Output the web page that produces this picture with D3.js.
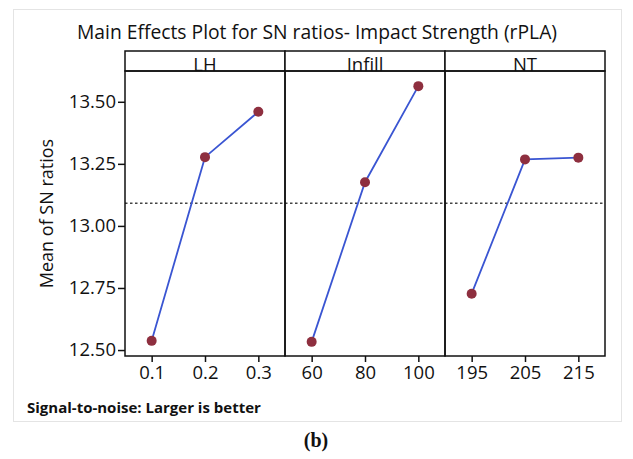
<!DOCTYPE html>
<html>
<head>
<meta charset="utf-8">
<script src="https://cdn.jsdelivr.net/npm/d3@7"></script>
<style>
  body { margin: 0; background: #fff; }
  text { font-family: "Open Sans", "Noto Sans", sans-serif; fill: #111; }
</style>
</head>
<body>
<div id="chart"></div>
<script>
// factors and their levels
var factors = ["LH", "Infill", "NT"];
var lhLevels = ["0.1", "0.2", "0.3"];
var infillLevels = ["60", "80", "100"];
var ntLevels = ["195", "205", "215"];

// mean of SN ratios for each level
var lhMeans = [12.537, 13.277, 13.460];
var infillMeans = [12.533, 13.176, 13.563];
var ntMeans = [12.727, 13.268, 13.275];

var yTicks = [12.50, 12.75, 13.00, 13.25, 13.50];
var overallMean = 13.091;

var panels = [
    {name: factors[0], levels: lhLevels, means: lhMeans},
    {name: factors[1], levels: infillLevels, means: infillMeans},
    {name: factors[2], levels: ntLevels, means: ntMeans}
];

var width = 633;
var height = 459;

var plotLeft = 125;
var plotTop = 71;
var plotBottom = 356;
var panelW = 160;
var headerH = 20;

var svg = d3.select('#chart')
    .append('svg')
    .attr('width', width)
    .attr('height', height);

// light frame round the graph
svg.append('rect')
    .attr('x', 13.5)
    .attr('y', 9.5)
    .attr('width', 608)
    .attr('height', 412)
    .attr('fill', 'none')
    .attr('stroke', '#e4e4e4')
    .attr('stroke-width', 1);

svg.append('text')
    .attr('x', 317)
    .attr('y', 39)
    .attr('text-anchor', 'middle')
    .style('font-size', '19.3px')
    .text('Main Effects Plot for SN ratios- Impact Strength (rPLA)');

var scaleY = d3.scaleLinear()
    .domain([12.476, 13.624])
    .range([plotBottom, plotTop]);

var yAxis = d3.axisLeft(scaleY)
    .tickValues(yTicks)
    .tickFormat(d3.format('.2f'))
    .tickSize(7)
    .tickPadding(2);

var gy = svg.append('g')
    .attr('transform', 'translate(' + plotLeft + ',0)')
    .call(yAxis);
gy.select('.domain').remove();
gy.selectAll('line').attr('stroke', '#111').attr('stroke-width', 1.5);
gy.selectAll('text').style('font-size', '18.5px').attr('fill', '#111');

svg.append('text')
    .attr('transform', 'translate(53,' + ((plotTop + plotBottom) / 2) + ') rotate(-90)')
    .attr('text-anchor', 'middle')
    .style('font-size', '18px')
    .text('Mean of SN ratios');

// mean line across all panels
svg.append('line')
    .attr('x1', plotLeft)
    .attr('x2', plotLeft + panelW * 3)
    .attr('y1', scaleY(overallMean))
    .attr('y2', scaleY(overallMean))
    .attr('stroke', '#444')
    .attr('stroke-width', 1.5)
    .attr('stroke-dasharray', '2.5,2.5');

panels.forEach(function(p, i) {
    var x0 = plotLeft + i * panelW;

    var scaleX = d3.scalePoint()
        .domain(p.levels)
        .range([x0, x0 + panelW])
        .padding(0.5);

    var xAxis = d3.axisBottom(scaleX)
        .tickSize(6)
        .tickPadding(4);

    var gx = svg.append('g')
        .attr('transform', 'translate(0,' + plotBottom + ')')
        .call(xAxis);
    gx.select('.domain').remove();
    gx.selectAll('line').attr('stroke', '#111').attr('stroke-width', 1.5);
    gx.selectAll('text').style('font-size', '18.5px').attr('fill', '#111');

    // header strip
    svg.append('rect')
        .attr('x', x0)
        .attr('y', plotTop - headerH)
        .attr('width', panelW)
        .attr('height', headerH)
        .attr('fill', 'white')
        .attr('stroke', '#111')
        .attr('stroke-width', 1.5);

    svg.append('text')
        .attr('x', x0 + panelW / 2)
        .attr('y', plotTop)
        .attr('text-anchor', 'middle')
        .style('font-size', '18.5px')
        .text(p.name);

    // panel border
    svg.append('rect')
        .attr('x', x0)
        .attr('y', plotTop)
        .attr('width', panelW)
        .attr('height', plotBottom - plotTop)
        .attr('fill', 'none')
        .attr('stroke', '#111')
        .attr('stroke-width', 1.5);

    var pts = p.levels.map(function(l, j) { return {level: l, value: p.means[j]}; });

    var line = d3.line()
        .x(function(d) { return scaleX(d.level); })
        .y(function(d) { return scaleY(d.value); });

    svg.append('path')
        .datum(pts)
        .attr('d', line)
        .attr('fill', 'none')
        .attr('stroke', '#3a55d2')
        .attr('stroke-width', 1.8);

    svg.append('g')
        .selectAll('circle')
        .data(pts)
        .enter()
        .append('circle')
        .attr('cx', function(d) { return scaleX(d.level); })
        .attr('cy', function(d) { return scaleY(d.value); })
        .attr('r', 5)
        .attr('fill', '#8e2f3f');
});

svg.append('text')
    .attr('x', 27)
    .attr('y', 413)
    .style('font-size', '15px')
    .style('font-weight', 'bold')
    .text('Signal-to-noise: Larger is better');

svg.append('text')
    .attr('x', 316)
    .attr('y', 447)
    .attr('text-anchor', 'middle')
    .style('font-family', '"Liberation Serif", "Times New Roman", serif')
    .style('font-size', '20px')
    .style('font-weight', 'bold')
    .text('(b)');
</script>
</body>
</html>
